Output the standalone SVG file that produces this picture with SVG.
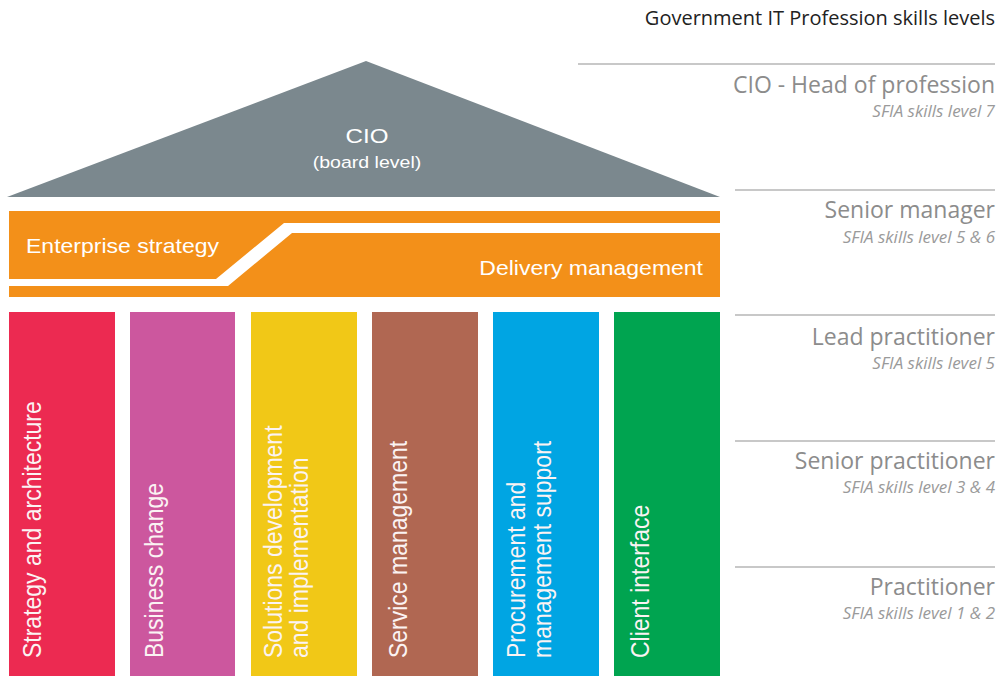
<svg xmlns="http://www.w3.org/2000/svg" width="1000" height="676" viewBox="0 0 1000 676">
<style>
.lbl{font-family:"Liberation Sans",Arial,sans-serif;fill:#fff}
.col{font-size:23px;fill:#fbf3f3}
.ttl{font-family:"Open Sans","Noto Sans",sans-serif;text-anchor:end}
.lvl{font-size:23px;fill:#8c8c8c}
.sub{font-size:17px;font-style:italic;fill:#9a9a9a}
.rule{stroke:#c8c8c8;stroke-width:2}
</style>
<rect width="1000" height="676" fill="#fff"/>
<g id="cio">
<polygon points="366,61 7,197 720,197" fill="#7b888e"/>
<text class="lbl" text-anchor="middle" font-size="21" transform="translate(367,143) scale(1.15,1)">CIO</text>
<text class="lbl" text-anchor="middle" font-size="17" transform="translate(367,168) scale(1.15,1)">(board level)</text>
</g>
<g id="management">
<rect x="9" y="211" width="711" height="86" fill="#f39019"/>
<polygon points="720,223 284,223 216,279 9,279 9,286 228,286 292,233 720,233" fill="#fff"/>
<text class="lbl" font-size="20" transform="translate(26,253) scale(1.15,1)">Enterprise strategy</text>
<text class="lbl" font-size="20" text-anchor="end" transform="translate(703,275) scale(1.15,1)">Delivery management</text>
</g>
<g id="col-strategy">
<rect x="9" y="312" width="106" height="364" fill="#ec2a51"/>
<text class="lbl col" transform="translate(41,658) scale(1.15,1) rotate(-90)">Strategy and architecture</text>
</g>
<g id="col-business">
<rect x="130" y="312" width="105" height="364" fill="#cc579e"/>
<text class="lbl col" transform="translate(163,658) scale(1.15,1) rotate(-90)">Business change</text>
</g>
<g id="col-solutions">
<rect x="251" y="312" width="106" height="364" fill="#f1c817"/>
<text class="lbl col" transform="translate(282,658) scale(1.15,1) rotate(-90)">Solutions development</text>
<text class="lbl col" transform="translate(308,658) scale(1.15,1) rotate(-90)">and implementation</text>
</g>
<g id="col-service">
<rect x="372" y="312" width="106" height="364" fill="#b06752"/>
<text class="lbl col" transform="translate(407,658) scale(1.15,1) rotate(-90)">Service management</text>
</g>
<g id="col-procurement">
<rect x="493" y="312" width="106" height="364" fill="#00a5e3"/>
<text class="lbl col" transform="translate(525,658) scale(1.15,1) rotate(-90)">Procurement and</text>
<text class="lbl col" transform="translate(551,658) scale(1.15,1) rotate(-90)">management support</text>
</g>
<g id="col-client">
<rect x="614" y="312" width="106" height="364" fill="#00a450"/>
<text class="lbl col" transform="translate(649,658) scale(1.15,1) rotate(-90)">Client interface</text>
</g>
<g id="connectors">
<line class="rule" x1="578" y1="64" x2="995" y2="64"/>
<line class="rule" x1="735" y1="190" x2="995" y2="190"/>
<line class="rule" x1="735" y1="315" x2="995" y2="315"/>
<line class="rule" x1="735" y1="441" x2="995" y2="441"/>
<line class="rule" x1="735" y1="567" x2="995" y2="567"/>
</g>
<g id="levels">
<text class="ttl" x="995" y="25" font-size="20" fill="#222">Government IT Profession skills levels</text>
<text class="ttl lvl" x="995" y="93">CIO - Head of profession</text>
<text class="ttl sub" x="995" y="117">SFIA skills level 7</text>
<text class="ttl lvl" x="995" y="218">Senior manager</text>
<text class="ttl sub" x="995" y="243">SFIA skills level 5 &amp; 6</text>
<text class="ttl lvl" x="995" y="345">Lead practitioner</text>
<text class="ttl sub" x="995" y="369">SFIA skills level 5</text>
<text class="ttl lvl" x="995" y="469">Senior practitioner</text>
<text class="ttl sub" x="995" y="493">SFIA skills level 3 &amp; 4</text>
<text class="ttl lvl" x="995" y="595">Practitioner</text>
<text class="ttl sub" x="995" y="619">SFIA skills level 1 &amp; 2</text>
</g>
</svg>
